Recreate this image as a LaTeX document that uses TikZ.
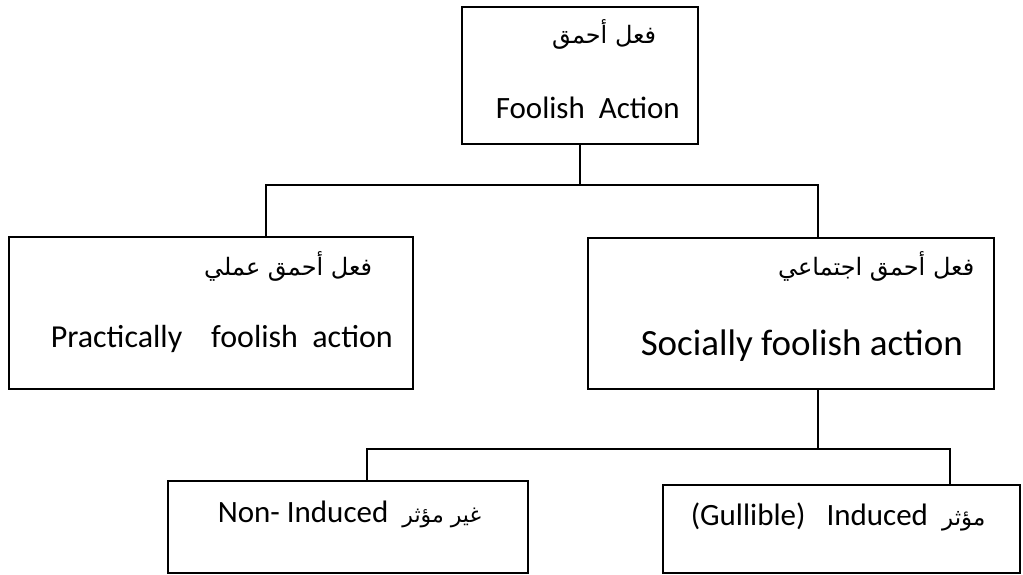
\documentclass[tikz,border=0pt]{standalone}
\usepackage{fontspec}
\setmainfont{Carlito}
\newfontfamily\arabicfont[Script=Arabic]{DejaVu Sans}
\TeXXeTstate=1
\tikzset{
  box/.style={draw,line width=1.5pt,inner sep=0pt},
  en/.style={anchor=base west,inner sep=0pt,font=\fontsize{31}{36}\selectfont},
  ar/.style={anchor=base east,inner sep=0pt,font=\arabicfont\fontsize{24}{28}\selectfont},
}
\begin{document}
\begin{tikzpicture}[x=1pt,y=-1pt,line width=1.5pt]
    \useasboundingbox (0,0) rectangle (1023,574);
    % boxes
    \node[box,minimum width=236pt,minimum height=137pt] (act) at (580,75.5) {};
    \node[box,minimum width=404pt,minimum height=152pt] (prac) at (211,313) {};
    \node[box,minimum width=406pt,minimum height=151pt] (soc) at (791,313.5) {};
    \node[box,minimum width=360pt,minimum height=92pt] (non) at (348,527) {};
    \node[box,minimum width=357pt,minimum height=88pt] (ind) at (841.5,529) {};
    % texts
    \node[ar] (actar) at (657,43) {\beginR فعل أحمق\endR};
    \node[en] (acten) at (495,118) {Foolish\ \ Action};
    \node[ar] (pracar) at (373,275) {\beginR فعل أحمق عملي\endR};
    \node[en,font=\fontsize{32}{37}\selectfont] (pracen) at (50,347) {Practically\ \ \ \ foolish\ \ action};
    \node[ar] (socar) at (975,275) {\beginR فعل أحمق اجتماعي\endR};
    \node[en,font=\fontsize{37}{42}\selectfont] (socen) at (640,355) {Socially foolish action};
    \node[en] (nonen) at (217,522) {Non- Induced\ \ {\arabicfont\fontsize{22}{26}\selectfont\beginR غير مؤثر\endR}};
    \node[en] (inden) at (690,525) {(Gullible)\ \ \ Induced\ \ {\arabicfont\fontsize{23}{27}\selectfont\beginR مؤثر\endR}};
    % connectors
    \coordinate (j1) at (266,185);
    \coordinate (j2) at (818,185);
    \coordinate (j3) at (367,449);
    \coordinate (j4) at (950,449);
    \draw (act.south) -- (act.south |- j1);
    \draw (prac.north -| j1) -- (j1) -- (j2) -- (soc.north -| j2);
    \draw (soc.south -| j2) -- (j2 |- j3);
    \draw (non.north -| j3) -- (j3) -- (j4) -- (ind.north -| j4);
\end{tikzpicture}
\end{document}
